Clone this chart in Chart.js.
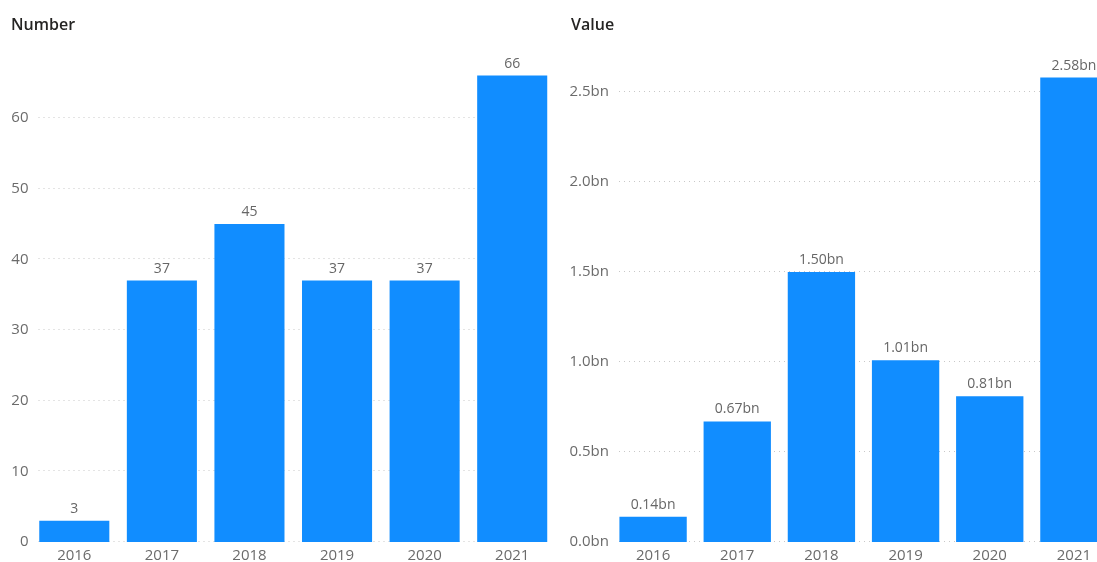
<!DOCTYPE html>
<html>
<head>
<meta charset="utf-8">
<script src="https://cdn.jsdelivr.net/npm/chart.js@4/dist/chart.umd.min.js"></script>
<style>
  html, body { margin: 0; padding: 0; background: #fff; overflow: hidden; width: 1097px; height: 562px; }
  #wrap { position: relative; width: 1097px; height: 562px; overflow: hidden; }
  .box { position: absolute; top: 0; height: 562px; }
  #c1box { left: 0; width: 560px; }
  #c2box { left: 560px; width: 560px; }
</style>
</head>
<body>
<div id="wrap">
  <div class="box" id="c1box"><canvas id="c1" width="560" height="562"></canvas></div>
  <div class="box" id="c2box"><canvas id="c2" width="560" height="562"></canvas></div>
</div>
<script>
const years = ['2016', '2017', '2018', '2019', '2020', '2021'];
const numbers = [3, 37, 45, 37, 37, 66];
const valuesBn = [0.14, 0.67, 1.50, 1.01, 0.81, 2.58];
const numberTicks = [0, 10, 20, 30, 40, 50, 60];
const valueTicks = [0, 0.5, 1.0, 1.5, 2.0, 2.5];

const FONT = "'Open Sans', 'Noto Sans', sans-serif";
const BAR = '#118DFF';
const TICK = '#6b6b6b';
const LABEL = '#666666';
const TITLE = '#252423';

const decorations = {
  id: 'decorations',
  beforeDatasetsDraw(chart, args, opts) {
    const ctx = chart.ctx;
    const area = chart.chartArea;
    const y = chart.scales.y;
    ctx.save();
    ctx.strokeStyle = '#c8c8c8';
    ctx.lineWidth = 1;
    ctx.setLineDash([1, 4]);
    y.ticks.forEach(t => {
      const py = Math.round(y.getPixelForValue(t.value)) - 0.5;
      ctx.beginPath();
      ctx.moveTo(area.left + 8, py);
      ctx.lineTo(area.right - 8, py);
      ctx.stroke();
    });
    ctx.restore();
  },
  afterDatasetsDraw(chart, args, opts) {
    const ctx = chart.ctx;
    ctx.save();
    ctx.font = '600 16px ' + FONT;
    ctx.fillStyle = TITLE;
    ctx.textAlign = 'left';
    ctx.textBaseline = 'middle';
    ctx.fillText(opts.title, 11, 25);
    ctx.font = '14px ' + FONT;
    ctx.fillStyle = LABEL;
    ctx.textAlign = 'center';
    const meta = chart.getDatasetMeta(0);
    const data = chart.data.datasets[0].data;
    meta.data.forEach((el, i) => {
      ctx.fillText(opts.fmt(data[i]), el.x, el.y - 12);
    });
    ctx.restore();
  }
};

function makeChart(id, title, data, ticksArr, yMax, yWidth, fmtTick, fmtLabel) {
  return new Chart(document.getElementById(id), {
    type: 'bar',
    data: {
      labels: years,
      datasets: [{
        data: data,
        backgroundColor: BAR,
        borderWidth: 0,
        categoryPercentage: 0.8,
        barPercentage: 1.0
      }]
    },
    options: {
      responsive: false,
      animation: false,
      layout: { padding: { left: 2, right: 4, top: 51, bottom: 0 } },
      plugins: {
        legend: { display: false },
        tooltip: { enabled: false },
        decorations: { title: title, fmt: fmtLabel }
      },
      scales: {
        x: {
          grid: { display: false, drawTicks: false },
          border: { display: false },
          ticks: { color: TICK, font: { family: FONT, size: 15 }, padding: 5, maxRotation: 0 },
          afterFit(scale) { scale.height = 20; }
        },
        y: {
          min: 0,
          max: yMax,
          grid: { display: false, drawTicks: false },
          border: { display: false },
          ticks: {
            color: TICK, font: { family: FONT, size: 15 }, padding: 2,
            callback: fmtTick
          },
          afterBuildTicks(scale) { scale.ticks = ticksArr.map(v => ({ value: v })); },
          afterFit(scale) { scale.width = yWidth; }
        }
      }
    },
    plugins: [decorations]
  });
}

makeChart('c1', 'Number', numbers, numberTicks, 491 / 7.067, 28.5,
  v => String(v), v => String(v));
makeChart('c2', 'Value', valuesBn, valueTicks, 491 / 180, 49,
  v => v.toFixed(1) + 'bn', v => v.toFixed(2) + 'bn');
</script>
</body>
</html>
